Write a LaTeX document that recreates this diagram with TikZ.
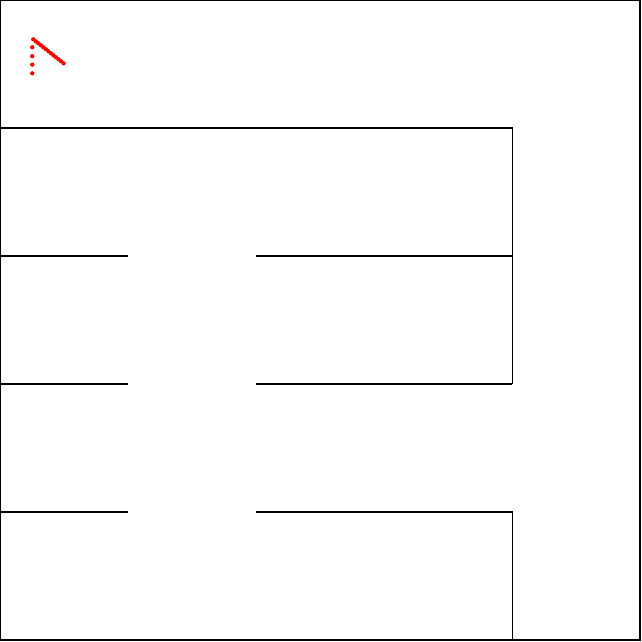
\documentclass[tikz,border=0pt]{standalone}
\usepackage{tikz}

\tikzset{
  wall/.style={line width=.45pt, black},
  border/.style={line width=.9pt, black},
  trail/.style={fill=red, draw=none}
}

\begin{document}
\begin{tikzpicture}[x=2cm,y=2cm]
\useasboundingbox (0,-0.015625) rectangle (5.015625,5);
\draw[border] (0,0) rectangle (5,5);
\draw[wall] (0,4) -- (4,4) -- (4,2);
\draw[wall] (0,3) -- (1,3);
\draw[wall] (2,3) -- (4,3);
\draw[wall] (0,2) -- (1,2);
\draw[wall] (2,2) -- (4,2);
\draw[wall] (0,1) -- (1,1);
\draw[wall] (2,1) -- (4,1) -- (4,0);
\foreach \i in {0,...,12}
  \fill[trail] ({0.260+\i*(0.497-0.260)/12},{4.693-\i*(4.693-4.505)/12}) circle (0.034cm);
\foreach \y in {4.631,4.561,4.495,4.427}
  \fill[trail] (0.252,\y) circle (0.034cm);
\end{tikzpicture}
\end{document}
